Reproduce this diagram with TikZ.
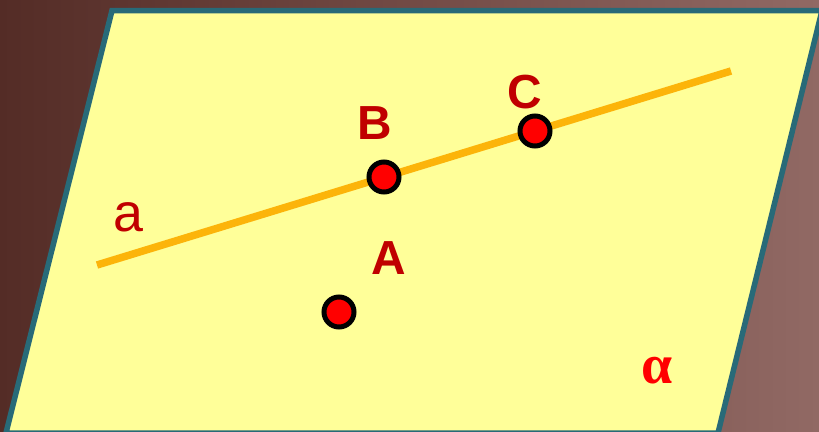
\documentclass[tikz,border=0pt]{standalone}
\usepackage{fontspec}
\setmainfont{Liberation Sans}
\newfontfamily\greekserif{Liberation Serif}
\definecolor{bgleft}{RGB}{84,44,38}
\definecolor{bgright}{RGB}{145,105,100}
\definecolor{planefill}{RGB}{255,255,153}
\definecolor{planeedge}{RGB}{40,106,120}
\definecolor{lineorange}{RGB}{252,180,10}
\definecolor{labelred}{RGB}{192,0,0}
\tikzset{
  ptdot/.style={circle, draw=black, fill=red, line width=5bp, minimum size=30bp, inner sep=0},
  ptlabel/.style={text=labelred, font=\fontsize{48}{48}\selectfont\bfseries, inner sep=0},
}
\begin{document}
\begin{tikzpicture}[x=1bp,y=-1bp]
\useasboundingbox (0,0) rectangle (819,431);
\shade[left color=bgleft, right color=bgright] (0,0) rectangle (819,431);
% plane
\coordinate (p1) at (112,10.5);
\coordinate (p2) at (822,10.5);
\coordinate (p3) at (718,433);
\coordinate (p4) at (6,433);
\filldraw[fill=planefill, draw=planeedge, line width=5.5bp, line join=miter] (p1) -- (p2) -- (p3) -- (p4) -- cycle;
% line a
\coordinate (a1) at (97,265);
\coordinate (a2) at (731,71);
\draw[lineorange, line width=7.5bp] (a1) -- (a2);
% points
\node[ptdot] (B) at (384,177) {};
\node[ptdot] (C) at (535,131) {};
\node[ptdot] (A) at (339,312) {};
% labels
\node[ptlabel] (lB) at (374.5,123.5) {B};
\node[ptlabel] (lC) at (525,92.5) {C};
\node[ptlabel] (lA) at (389,258.5) {A};
\node[text=labelred, font=\fontsize{54}{54}\selectfont, inner sep=0] (la) at (128.5,217.5) {a};
\node[text=red, font=\greekserif\fontsize{56}{56}\selectfont\bfseries, inner sep=0] (lalpha) at (657,370.5) {α};
\end{tikzpicture}
\end{document}
